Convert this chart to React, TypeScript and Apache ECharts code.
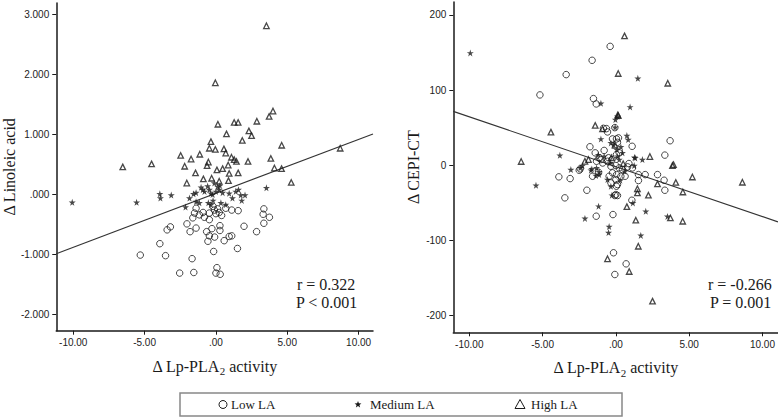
import React, { useEffect, useRef } from "react";
import * as echarts from "echarts";

// ---- tick values ----
const xTicks = [-10, -5, 0, 5, 10];
const laTicks = [-2, -1, 0, 1, 2, 3];
const cepiTicks = [-200, -100, 0, 100, 200];

// ---- Left panel: Δ Lp-PLA2 activity vs Δ Linoleic acid ----
const laLow: number[][] = [
  [-1.39, -0.23], [-1.5, -0.31], [-1.62, -0.39], [-1.16, -0.34], [-0.81, -0.38], [-0.46, -0.42],
  [-0.46, -0.31], [-0.11, -0.26], [0.12, -0.24], [0, -0.32], [0.23, -0.3], [0.69, -0.23],
  [1.11, -0.26], [1.56, -0.27], [3.36, -0.24], [3.31, -0.33], [3.75, -0.38], [3.36, -0.48],
  [-2.03, -0.49], [-1.39, -0.56], [-1.81, -0.62], [-3.42, -0.59], [-3.19, -0.54], [-0.65, -0.62],
  [-0.28, -0.57], [0.28, -0.52], [0.28, -0.6], [-0.46, -0.69], [-0.09, -0.71], [-0.56, -0.78],
  [0.58, -0.77], [0.93, -0.7], [1.11, -0.69], [1.97, -0.53], [2.85, -0.62], [-3.93, -0.82],
  [1.51, -0.9], [-0.16, -0.95], [-5.3, -1.01], [-3.53, -1.02], [-1.67, -1.07], [-2.54, -1.31],
  [-1.55, -1.3], [0.07, -1.22], [0, -1.31], [0.3, -1.33], [-0.2, -0.2], [0.4, -0.35], [-0.9, -0.3],
];
const laMedium: number[][] = [
  [-10.07, -0.13], [-5.56, -0.13], [-3.93, 0.01], [-3.89, -0.06], [-3.13, -0.01], [-2.13, -0.21],
  [-1.85, -0.06], [-1.57, 0.01], [-1.39, 0.03], [-1.04, 0.12], [-0.92, 0.08], [-1.39, -0.12],
  [-1.16, -0.14], [-0.58, 0.14], [-0.46, 0.08], [-0.35, 0.02], [-0.11, 0.19], [0.12, 0.13],
  [0.23, 0.08], [0, 0.05], [-0.23, 0.0], [-0.53, -0.14], [-0.35, -0.17], [0.35, -0.14],
  [0.69, -0.17], [0.93, 0.02], [1.16, -0.06], [1.39, 0.05], [1.58, 0.08], [1.74, -0.01],
  [2.04, -0.01], [1.81, -0.1], [3.54, 0.11], [0.47, 0.03], [-0.8, 0.05], [0.28, 0.15], [-0.2, -0.1],
];
const laHigh: number[][] = [
  [3.54, 2.81], [-0.04, 1.86], [4.0, 1.39], [3.73, 1.3], [2.87, 1.22], [1.28, 1.2], [1.56, 1.2],
  [0.14, 1.17], [0.74, 1.01], [2.31, 1.06], [2.5, 0.98], [1.85, 0.9], [-0.35, 0.88], [4.61, 0.82],
  [-0.46, 0.77], [-0.04, 0.75], [0.56, 0.76], [0.69, 0.69], [-2.47, 0.65], [-1.13, 0.67],
  [-1.74, 0.59], [1.09, 0.62], [1.28, 0.58], [1.44, 0.55], [2.25, 0.55], [3.85, 0.6], [8.71, 0.77],
  [-6.53, 0.46], [-4.51, 0.51], [-2.19, 0.47], [-0.53, 0.54], [-0.62, 0.48], [4.1, 0.44],
  [4.6, 0.43], [0.07, 0.41], [0.47, 0.43], [0.86, 0.49], [0.93, 0.35], [1.56, 0.36], [-1.43, 0.36],
  [-2.04, 0.19], [-0.88, 0.26], [-0.3, 0.27], [0.23, 0.22], [0.88, 0.23], [5.28, 0.2],
];
const laFit = { intercept: 0.018, slope: 0.09 };

// ---- Right panel: Δ Lp-PLA2 activity vs Δ CEPI-CT ----
const cepiLow: number[][] = [
  [-0.39, 158], [-1.62, 139.5], [-3.39, 120.5], [-5.18, 93.5], [-1.53, 88.6], [-1.34, 81.5],
  [-0.85, 49.1], [-0.57, 44.3], [-0.64, 48.7], [-0.07, 50], [-0.23, 35], [0.18, 36.4], [0.04, 35],
  [0.11, 30.5], [3.7, 32.6], [1.11, 25.2], [-1.77, 24.6], [-0.8, 19.7], [-1.41, 16.5], [-1.14, 9.8],
  [-1.32, 5.3], [-1.02, 7.6], [0.23, 16.5], [3.34, 13.5], [0.04, 14.2], [-2.43, -4.8], [-2.5, -6.6],
  [-0.57, 5.3], [-0.27, 7.6], [-0.34, -1.3], [0, -0.4], [-0.23, -10.1], [0.05, -12.4], [0.23, -3.5],
  [0.45, -5.7], [0.34, -14.6], [0.63, -14.6], [0, -19], [-1.59, -14.6], [-1.18, -9.3], [0.04, -27.9],
  [-0.07, -40.2], [0.11, -40.2], [0.89, 2.3], [0.8, -2.1], [1.13, -3.5], [1.54, -12.4], [2.0, -12.4],
  [2.84, -12.4], [3.29, -19.9], [3.34, -33.2], [-3.89, -15.4], [-3.12, -17.7], [-3.48, -43.3],
  [-1.98, -33.2], [1.09, -46.5], [-1.34, -67.7], [-0.2, -65.5], [-0.16, -116.3], [0.7, -131],
  [-0.07, -145.2], [1.54, -20.3], [-0.46, -14.6], [-0.34, -23.4], [0.11, -25.6], [0, -38.9],
  [-0.9, 3], [-0.5, 10],
];
const cepiMedium: number[][] = [
  [-9.93, 149.3], [1.5, 115.5], [-1.02, 82.3], [0.97, 77.5], [-0.03, 60.7], [0.11, 65], [-0.05, 50.5],
  [-1.02, 35], [0.75, 39.4], [0.84, 34.1], [-0.34, 29.7], [-0.16, 27.5], [0.07, 20.8], [0.34, 24.4],
  [0.11, 12], [0.23, 7.6], [0.45, 16.5], [-3.82, 13.3], [1.27, 10.6], [1.81, 7.6], [1.32, 9.8],
  [1.25, -0.4], [-5.45, -26.6], [-3.07, -5.7], [-2.43, -3.5], [-2.28, -0.4], [-1.7, -6.6],
  [-1.14, -8.8], [-1.36, -13.7], [-1.64, -4.8], [-1.32, -3.5], [-1.14, -12.4], [-0.57, -19],
  [-0.34, -27.9], [-0.27, -39.8], [-1.18, -54.4], [-2.11, -70.6], [1.16, -50], [2.04, -61.2],
  [3.52, -68], [-0.46, -81.5], [-0.5, -89.4], [1.7, -93.2], [-1.2, 14], [-0.8, 12], [-0.4, 3],
  [0.6, -8], [0.3, -20],
];
const cepiHigh: number[][] = [
  [0.59, 172], [0.16, 122], [3.54, 109], [0.16, 66], [0.13, 67], [-1.41, 53], [-0.91, 48.3],
  [-4.43, 44], [-0.05, 26.6], [2.32, 11.6], [-6.46, 5], [-2.11, 5.3], [-1.87, 7.6], [3.86, -0.4],
  [3.93, 0.9], [2.84, -24.7], [4.09, -22.8], [4.57, -35.5], [5.22, -15.6], [8.63, -22.6],
  [1.47, -31.3], [1.47, -36.7], [2.22, -39.8], [0.75, -55], [1.36, -73], [3.72, -70], [4.56, -74.4],
  [1.53, -107.6], [-0.57, -124.3], [0.91, -141.2], [2.5, -180.6], [-0.3, 10], [0.5, 2],
];
const cepiFit = { intercept: -1.9, slope: -6.63 };

const X_MIN_L = -11.19, X_MAX_L = 11.01;
const X_MIN_R = -11.09, X_MAX_R = 11.06;

const STAR = "path://M50,0 L61,35 L98,35 L68,57 L79,91 L50,70 L21,91 L32,57 L2,35 L39,35 Z";
const INK = "#1a1a1a";
const SERIF = "Liberation Serif";
const SANS = "Liberation Sans";

const fmtX = (v: number) => (v === 0 ? ".00" : v.toFixed(2));
const fmtLA = (v: number) => (v === 0 ? ".000" : v.toFixed(3));
const fmtCEPI = (v: number) => String(v);

function xAxisCfg(gridIndex: number, min: number, max: number) {
  return {
    type: "value",
    gridIndex,
    min,
    max,
    name: "Δ Lp-PLA{sub|2} activity",
    nameLocation: "middle",
    nameGap: 25,
    nameTextStyle: {
      fontFamily: SERIF,
      fontSize: 16,
      color: INK,
      rich: { sub: { fontFamily: SERIF, fontSize: 11, color: INK, padding: [10, 0, 0, 0] } },
    },
    axisLine: { show: true, onZero: false, lineStyle: { color: INK, width: 1.5 } },
    axisTick: { show: true, customValues: xTicks, length: 4, lineStyle: { color: INK } },
    axisLabel: { customValues: xTicks, formatter: fmtX, fontSize: 10, color: "#222", fontFamily: SANS, margin: 7 },
    splitLine: { show: false },
  };
}

function yAxisCfg(gridIndex: number, min: number, max: number, ticks: number[], fmt: (v: number) => string, name: string, gap: number) {
  return {
    type: "value",
    gridIndex,
    min,
    max,
    name,
    nameLocation: "middle",
    nameGap: gap,
    nameTextStyle: { fontFamily: SERIF, fontSize: 16, color: INK },
    axisLine: { show: true, onZero: false, lineStyle: { color: INK, width: 1.5 } },
    axisTick: { show: true, customValues: ticks, length: 4, lineStyle: { color: INK } },
    axisLabel: { customValues: ticks, formatter: fmt, fontSize: 10, color: "#222", fontFamily: SANS, margin: 7 },
    splitLine: { show: false },
  };
}

const hollow = { color: "rgba(255,255,255,0)", borderColor: INK, borderWidth: 1 };

function groupSeries(idx: number, low: number[][], med: number[][], high: number[][]) {
  return [
    { name: "Low LA", type: "scatter", xAxisIndex: idx, yAxisIndex: idx, data: low, symbol: "circle", symbolSize: 6.5, itemStyle: hollow, z: 3 },
    { name: "Medium LA", type: "scatter", xAxisIndex: idx, yAxisIndex: idx, data: med, symbol: STAR, symbolSize: 7, itemStyle: { color: INK }, z: 4 },
    { name: "High LA", type: "scatter", xAxisIndex: idx, yAxisIndex: idx, data: high, symbol: "triangle", symbolSize: 5.5, itemStyle: { ...hollow, borderWidth: 1.3 }, z: 3 },
  ];
}

function fitLine(idx: number, fit: { intercept: number; slope: number }, min: number, max: number) {
  return {
    type: "line",
    xAxisIndex: idx,
    yAxisIndex: idx,
    data: [min, max].map((x) => [x, fit.intercept + fit.slope * x]),
    showSymbol: false,
    symbol: "none",
    lineStyle: { color: "#333", width: 1.1 },
    z: 2,
  };
}

function starPoints(cx: number, cy: number, r: number) {
  const pts: number[][] = [];
  for (let i = 0; i < 10; i++) {
    const rr = i % 2 === 0 ? r : r * 0.42;
    const a = -Math.PI / 2 + (i * Math.PI) / 5;
    pts.push([cx + rr * Math.cos(a), cy + rr * Math.sin(a)]);
  }
  return pts;
}

export default function App() {
  const ref = useRef<HTMLDivElement>(null);
  useEffect(() => {
    if (!ref.current) return;
    const chart = echarts.init(ref.current, undefined, { renderer: "svg" });
    const statText = (text: string, x: number, y: number) => ({
      type: "text",
      x,
      y,
      style: { text, fontFamily: SERIF, fontSize: 16, fill: INK, verticalAlign: "middle" },
    });
    const legendText = (text: string, x: number) => ({
      type: "text",
      x,
      y: 404.5,
      style: { text, fontFamily: SERIF, fontSize: 13, fill: INK, verticalAlign: "middle" },
    });
    chart.setOption({
      animation: false,
      backgroundColor: "#ffffff",
      grid: [
        { left: 51, top: 3, width: 322, height: 327.7 },
        { left: 453.3, top: 2, width: 325, height: 330.3 },
      ],
      xAxis: [xAxisCfg(0, X_MIN_L, X_MAX_L), xAxisCfg(1, X_MIN_R, X_MAX_R)],
      yAxis: [
        yAxisCfg(0, -2.27, 3.19, laTicks, fmtLA, "Δ Linoleic acid", 33),
        yAxisCfg(1, -222, 217, cepiTicks, fmtCEPI, "Δ CEPI-CT", 32),
      ],
      series: [
        ...groupSeries(0, laLow, laMedium, laHigh),
        fitLine(0, laFit, X_MIN_L, X_MAX_L),
        ...groupSeries(1, cepiLow, cepiMedium, cepiHigh),
        fitLine(1, cepiFit, X_MIN_R, X_MAX_R),
      ],
      graphic: [
        statText("r = 0.322", 297, 284),
        statText("P < 0.001", 296, 302.5),
        statText("r = -0.266", 708, 284),
        statText("P = 0.001", 710, 302.5),
        {
          type: "rect",
          shape: { x: 180, y: 393, width: 442, height: 23 },
          style: { fill: "#fff", stroke: "#888", lineWidth: 1.5 },
        },
        { type: "circle", shape: { cx: 223, cy: 404.5, r: 4 }, style: { fill: "none", stroke: INK, lineWidth: 1 } },
        legendText("Low LA", 231),
        { type: "polygon", shape: { points: starPoints(358, 404.5, 3.6) }, style: { fill: INK } },
        legendText("Medium LA", 370),
        {
          type: "polygon",
          shape: { points: [[520, 399.5], [525, 408.5], [515, 408.5]] },
          style: { fill: "none", stroke: INK, lineWidth: 1 },
        },
        legendText("High LA", 531),
      ],
    });
    return () => chart.dispose();
  }, []);
  return <div ref={ref} style={{ position: "fixed", left: 0, top: 0, width: 778, height: 417 }} />;
}
